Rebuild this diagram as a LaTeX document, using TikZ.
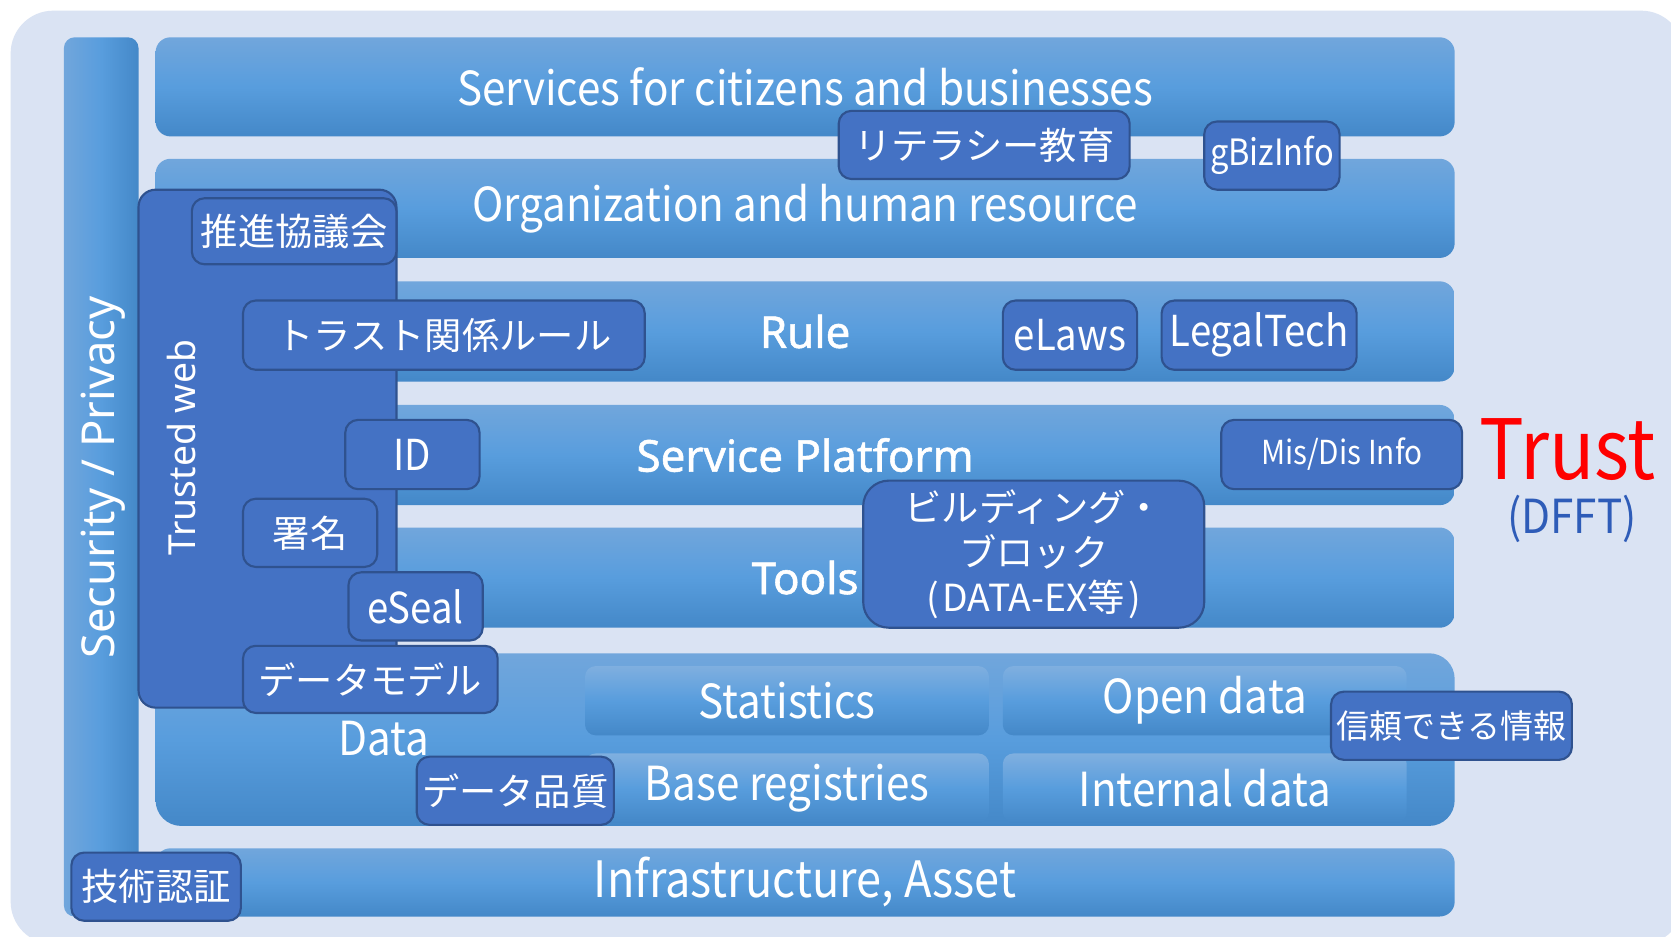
\documentclass[tikz,border=0pt]{standalone}
\usepackage{fontspec}
\setmainfont[FakeStretch=0.9]{Noto Sans CJK JP}
\newfontfamily\jpn{Noto Sans CJK JP}
\newfontfamily\msf{Noto Sans}
\newfontfamily\msb[FakeBold=1.2]{Noto Sans}
\definecolor{bgc}{HTML}{DAE3F3}
\definecolor{barT}{HTML}{71A6DC}
\definecolor{barM}{HTML}{589DDD}
\definecolor{barB}{HTML}{4488C8}
\definecolor{boxF}{HTML}{4472C4}
\definecolor{boxD}{HTML}{2F528F}
\definecolor{dfftc}{HTML}{2E5CB8}
\newcommand\fs[1]{\fontsize{#1}{#1}\selectfont}
\newcommand\mkbox[7]{%
  \pgfmathsetmacro\mbcx{(#2+#4)/2}%
  \pgfmathsetmacro\mbcy{(#3+#5)/2}%
  \pgfmathsetmacro\mbw{(#4-#2)*0.5}%
  \pgfmathsetmacro\mbh{(#5-#3)*0.5}%
  \node[#6, minimum width=\mbw pt, minimum height=\mbh pt] (#1) at (\mbcx,\mbcy) {#7};}
\tikzset{
  bar/.style={inner sep=0pt, outer sep=0pt, rounded corners=7pt, top color=barT, bottom color=barB, middle color=barM, text=white, font=\fs{22}},
  barm/.style={bar, font=\msb\fs{20.6}},
  dbox/.style={inner sep=0pt, outer sep=0pt, rounded corners=5pt, top color=barT!90!white, bottom color=barB, middle color=barM, text=white, font=\fs{22}},
  bbox/.style={inner sep=0pt, outer sep=0pt, rounded corners=6pt, fill=boxF, draw=boxD, line width=1pt, text=white, font=\jpn\fs{17.5}},
  blat/.style={bbox, font=\fs{20}},
}
\begin{document}
\begin{tikzpicture}[x=0.5pt,y=-0.5pt]
\useasboundingbox (0,0) rectangle (1568,879);
\fill[white] (0,0) rectangle (1568,879);
\fill[bgc, rounded corners=20pt] (10,10) rectangle (1580,886);
% security bar
\mkbox{sec}{60}{35}{130}{860}{inner sep=0pt, outer sep=0pt, rounded corners=5pt, left color=barT, right color=barB, middle color=barM}{}
\node[rotate=90, text=white, font=\msf\fs{21.3}] (seclbl) at (97,448) {Security / Privacy};
% layer bars
\mkbox{svc}{146}{35}{1365}{128}{bar}{Services for citizens and businesses}
\mkbox{org}{146}{149}{1365}{242}{bar}{Organization and human resource}
\mkbox{rule}{146}{264}{1365}{358}{barm}{Rule}
\mkbox{sp}{146}{380}{1365}{474}{barm}{Service Platform}
\mkbox{tools}{146}{495}{1365}{589}{barm}{Tools}
\mkbox{data}{146}{613}{1365}{775}{bar, rounded corners=12pt}{}
\mkbox{infra}{146}{796}{1365}{860}{bar, font=\fs{23.5}}{Infrastructure, Asset}
% data inner boxes
\mkbox{stat}{549}{625}{928}{690}{dbox}{Statistics}
\mkbox{open}{941}{625}{1320}{690}{dbox}{Open data}
\mkbox{base}{549}{707}{928}{772}{dbox}{Base registries}
\mkbox{internal}{941}{707}{1320}{772}{dbox}{Internal data}
\node[text=white, font=\fs{22}] (datalbl) at (360,693) {Data};
% trusted web
\mkbox{tw}{130}{178}{372}{664}{bbox, rounded corners=8pt}{}
\node[rotate=90, text=white, font=\msf\fs{17.5}] (twlbl) at (170,420) {Trusted web};
% small boxes
\mkbox{suishin}{180}{186}{372}{248}{bbox}{推進協議会}
\mkbox{literacy}{787}{104}{1060}{168}{bbox}{リテラシー教育}
\mkbox{gbiz}{1130}{114}{1257}{178}{bbox, font=\fs{17}}{gBizInfo}
\mkbox{trustrule}{228}{282}{605}{347}{bbox}{トラスト関係ルール}
\mkbox{elaws}{941}{282}{1067}{347}{blat}{eLaws}
\mkbox{legal}{1090}{282}{1273}{347}{blat}{LegalTech}
\mkbox{id}{324}{394}{450}{459}{blat}{ID}
\mkbox{misdis}{1146}{394}{1372}{459}{bbox, font=\fs{15.5}}{Mis/Dis Info}
\mkbox{shomei}{228}{468}{354}{532}{bbox}{署名}
\mkbox{bb}{810}{451}{1130}{589}{bbox, rounded corners=12pt, align=center, font=\jpn\fontsize{17.5}{21}\selectfont}{ビルディング・\\ブロック\\(\hspace{1.5pt}DATA-EX等\hspace{1.5pt})}
\mkbox{eseal}{327}{537}{453}{601}{blat}{eSeal}
\mkbox{dmodel}{228}{606}{467}{669}{bbox}{データモデル}
\mkbox{dquality}{391}{710}{576}{774}{bbox}{データ品質}
\mkbox{shinrai}{1249}{649}{1475}{713}{bbox, font=\jpn\fs{15.5}}{信頼できる情報}
\mkbox{gijutsu}{67}{800}{226}{864}{bbox}{技術認証}
% trust
\node[text=red, font=\fs{39}] (trust) at (1471,422) {Trust};
\node[text=dfftc, font=\fs{22}] (dfft) at (1475,487) {(DFFT)};
\end{tikzpicture}
\end{document}
